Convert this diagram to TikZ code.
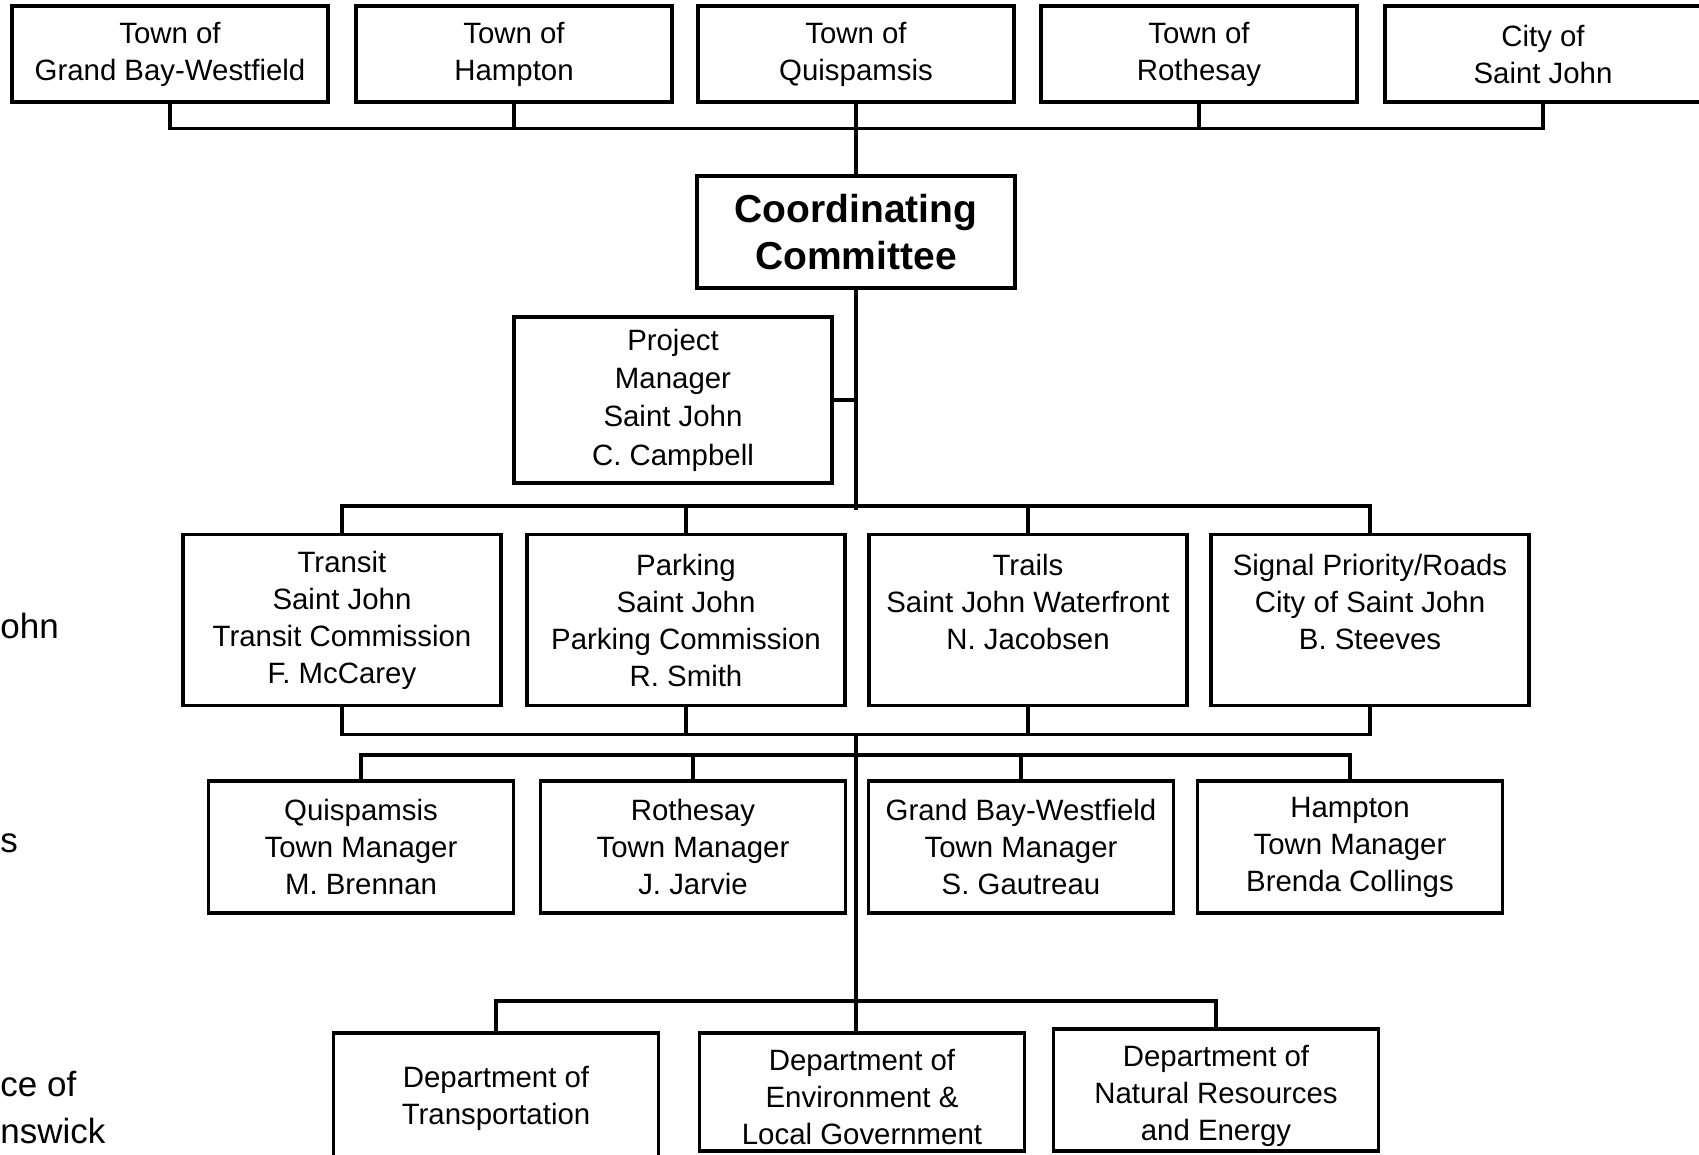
\documentclass[tikz,border=0pt]{standalone}
\usepackage{fontspec}
\setmainfont{Liberation Sans}
\begin{document}
\begin{tikzpicture}[x=0.5pt, y=-0.5pt,
    orgbox/.style={draw, line width=1.7pt, rectangle, align=center, inner sep=0pt,
        font=\fontsize{14.7}{18.5}\selectfont},
    townbox/.style={orgbox, minimum width=158pt, minimum height=48pt},
    teambox/.style={orgbox, minimum width=159pt, minimum height=85.5pt},
    mgrbox/.style={orgbox, minimum width=152.5pt, minimum height=66pt},
    deptbox/.style={orgbox, minimum width=162.5pt},
    link/.style={line width=1.7pt},
    sidelabel/.style={anchor=west, inner sep=0pt, align=left,
        font=\fontsize{17.5}{23.5}\selectfont}]
    \clip (0,0) rectangle (1699,1155);

    % Municipalities
    \node[townbox] (gbw)  at (170,54)  {Town of\\Grand Bay-Westfield};
    \node[townbox] (hamp) at (514,54)  {Town of\\Hampton};
    \node[townbox] (quis) at (856,54)  {Town of\\Quispamsis};
    \node[townbox] (roth) at (1199,54) {Town of\\Rothesay};
    \node[townbox] (sjc)  at (1543,54) {City of\\Saint John};

    % Committee and project manager
    \node[orgbox, minimum width=159pt, minimum height=56pt,
        font=\bfseries\fontsize{19.5}{23.3}\selectfont] (coord) at (856,232) {Coordinating\\Committee};
    \node[orgbox, minimum width=159pt, minimum height=83pt,
        font=\fontsize{14.7}{19.2}\selectfont] (pm) at (673,400) {Project\\Manager\\Saint John\\C. Campbell};

    % Working groups
    \node[teambox] (transit) at (342,620)  {Transit\\Saint John\\Transit Commission\\F. McCarey};
    \node[teambox] (parking) at (686,620)  {Parking\\Saint John\\Parking Commission\\R. Smith};
    \node[teambox] (trails)  at (1028,620) {Trails\\Saint John Waterfront\\N. Jacobsen\\\mbox{}};
    \node[teambox] (signal)  at (1370,620) {Signal Priority/Roads\\City of Saint John\\B. Steeves\\\mbox{}};

    % Town managers
    \node[mgrbox] (mquis) at (361,847)  {Quispamsis\\Town Manager\\M. Brennan};
    \node[mgrbox] (mroth) at (693,847)  {Rothesay\\Town Manager\\J. Jarvie};
    \node[mgrbox] (mgbw)  at (1021,847) {Grand Bay-Westfield\\Town Manager\\S. Gautreau};
    \node[mgrbox] (mhamp) at (1350,847) {Hampton\\Town Manager\\Brenda Collings};

    % Provincial departments
    \node[deptbox, minimum height=65pt] (dtran) at (496,1098) {Department of\\Transportation};
    \node[deptbox, minimum height=59pt] (denv)  at (862,1092) {\rule{0pt}{16pt}Department of\\Environment \&\\Local Government};
    \node[deptbox, minimum height=61pt] (dnre)  at (1216,1090) {\rule{0pt}{17pt}Department of\\Natural Resources\\and Energy};

    % Side labels (cut at the edge)
    \node[sidelabel] (lblsj)    at (0,626)  {ohn};
    \node[sidelabel] (lbltowns) at (0,843)  {s};
    \node[sidelabel] (lblprov)  at (0,1108) {ce of\\nswick};

    % Bus points
    \coordinate (bustop) at (856,127);
    \coordinate (split)  at (856,733);
    \coordinate (busmgr) at (856,755);
    \coordinate (busdep) at (856,1001);

    % Municipalities to committee
    \draw[link] (gbw.south) -- ++(0,25) -| (sjc.south);
    \foreach \t in {hamp,roth}
        \draw[link] (\t.south) -- (\t.south |- bustop);
    \draw[link] (quis.south) -- (coord.north);

    % Committee to working groups
    \draw[link] (coord.south) -- ++(0,220);
    \draw[link] (pm.east) -- (pm.east -| coord.south);
    \draw[link] (transit.north) -- ++(0,-27) -| (signal.north);
    \foreach \t in {parking,trails}
        \draw[link] (\t.north) -- ++(0,-27);
    \draw[link] (transit.south) -- ++(0,27) -| (signal.south);
    \foreach \t in {parking,trails}
        \draw[link] (\t.south) -- ++(0,27);

    % Town managers and departments
    \draw[link] (split) -- (busdep);
    \draw[link] (mquis.north) -- (mquis.north |- busmgr) -| (mhamp.north);
    \foreach \t in {mroth,mgbw}
        \draw[link] (\t.north) -- (\t.north |- busmgr);
    \draw[link] (dtran.north) -- (dtran.north |- busdep) -| (dnre.north);
    \draw[link] (busdep) -- (busdep |- denv.north);
\end{tikzpicture}
\end{document}
